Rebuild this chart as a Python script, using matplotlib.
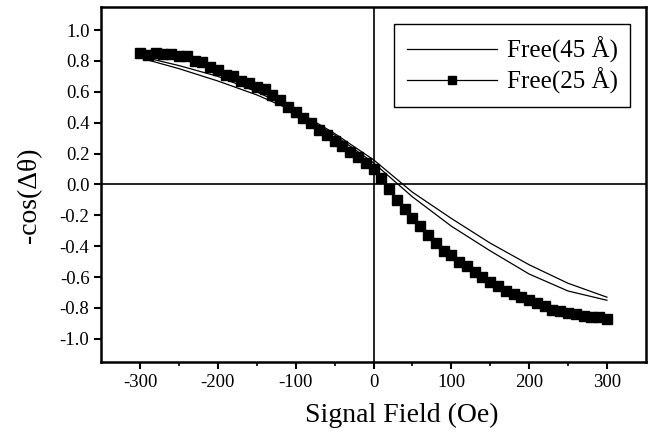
import matplotlib.pyplot as plt
import numpy as np

plt.rcParams['font.family'] = 'serif'
plt.rcParams['font.serif'] = ['Liberation Serif', 'DejaVu Serif']
plt.rcParams['axes.unicode_minus'] = False

# Free(45 A): narrow loop, two branches
x45 = [-300, -250, -200, -150, -100, -50, 0, 50, 100, 150, 200, 250, 300]
y45_down = [0.83, 0.77, 0.70, 0.60, 0.48, 0.33, 0.16, -0.05, -0.22, -0.38, -0.52, -0.64, -0.73]
y45_up = [0.82, 0.75, 0.67, 0.58, 0.47, 0.32, 0.14, -0.08, -0.27, -0.43, -0.58, -0.69, -0.75]

# Free(25 A): two branches, staggered field steps
x25_a = [-300, -280, -260, -240, -220, -200, -180, -160, -140, -120, -100, -80, -60, -40, -20,
         0, 20, 40, 60, 80, 100, 120, 140, 160, 180, 200, 220, 240, 260, 280, 300]
y25_a = [0.85, 0.85, 0.845, 0.83, 0.79, 0.74, 0.70, 0.66, 0.62, 0.55, 0.47, 0.40, 0.32, 0.25, 0.18,
         0.10, -0.03, -0.16, -0.27, -0.38, -0.46, -0.53, -0.60, -0.66, -0.71, -0.75, -0.79, -0.82, -0.84, -0.86, -0.87]
x25_b = [-290, -270, -250, -230, -210, -190, -170, -150, -130, -110, -90, -70, -50, -30, -10,
         10, 30, 50, 70, 90, 110, 130, 150, 170, 190, 210, 230, 250, 270, 290]
y25_b = [0.84, 0.845, 0.835, 0.80, 0.76, 0.71, 0.67, 0.63, 0.58, 0.50, 0.43, 0.35, 0.28, 0.21, 0.14,
         0.04, -0.10, -0.22, -0.33, -0.43, -0.50, -0.57, -0.63, -0.69, -0.73, -0.77, -0.81, -0.83, -0.85, -0.86]

fig = plt.figure(figsize=(6.53, 4.32), dpi=100)
ax = fig.add_axes([0.155, 0.162, 0.834, 0.822])

ax.axhline(0, color='black', linewidth=1.2, zorder=1)
ax.axvline(0, color='black', linewidth=1.2, zorder=1)

ax.plot(x45, y45_down, color='black', linewidth=0.9, label='Free(45 Å)')
ax.plot(x45[::-1], y45_up[::-1], color='black', linewidth=0.9)
ax.plot(x25_a, y25_a, color='black', linewidth=0.9, marker='s', markersize=7.5,
        linestyle='-', label='Free(25 Å)')
ax.plot(x25_b, y25_b, color='black', linewidth=0.9, marker='s', markersize=7.5,
        linestyle='-')

ax.set_xlim(-350, 350)
ax.set_ylim(-1.15, 1.15)
ax.set_xticks(np.arange(-300, 301, 100))
ax.set_xticks(np.arange(-250, 301, 100), minor=True)
yt = np.round(np.arange(-1.0, 1.01, 0.2), 1)
ax.set_yticks(yt)
ax.set_yticklabels(['%.1f' % abs(v) if v == 0 else '%.1f' % v for v in yt])
ax.tick_params(axis='both', which='major', direction='out', length=5, width=1.5, labelsize=13.5)
ax.tick_params(axis='x', which='minor', direction='out', length=3, width=1.2)
for s in ax.spines.values():
    s.set_linewidth(1.8)

ax.set_xlabel('Signal Field (Oe)', fontsize=20)
ax.xaxis.set_label_coords(0.552, -0.115)
ax.set_ylabel('-cos(Δθ)', fontsize=20)
ax.yaxis.set_label_coords(-0.108, 0.47)

leg = ax.legend(loc='upper right', bbox_to_anchor=(0.971, 0.952), borderaxespad=0,
                fontsize=18, frameon=True, fancybox=False, edgecolor='black', framealpha=1,
                handlelength=3.6, borderpad=0.5, labelspacing=0.2, handletextpad=0.4,
                markerscale=0.8)
leg.get_frame().set_linewidth(1.0)

fig.savefig('out.png', dpi=100)
